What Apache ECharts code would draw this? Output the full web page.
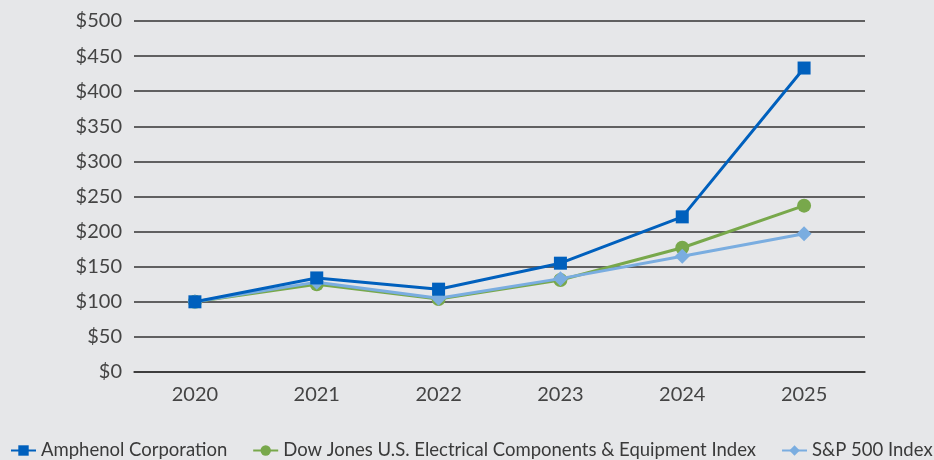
<!DOCTYPE html>
<html><head><meta charset="utf-8">
<script src="https://cdn.jsdelivr.net/npm/echarts@6/dist/echarts.min.js"></script>
<style>html,body{margin:0;padding:0;background:#e6e7e9;}#c{width:934px;height:460px;}</style>
</head><body><div id="c"></div>
<script>
const years = ['2020','2021','2022','2023','2024','2025'];
const amphenol = [100, 134, 118, 155, 221, 433];
const dowJones = [100, 125, 104, 131, 177, 237];
const sp500 = [100, 128, 105, 133, 165, 197];
const names = ['Amphenol Corporation','Dow Jones U.S. Electrical Components & Equipment Index','S&P 500 Index'];
const colors = ['#0060bd','#78a84b','#7aade0'];
const chart = echarts.init(document.getElementById('c'));
const font = 'Lato, "Noto Sans", sans-serif';
chart.setOption({
  backgroundColor: '#e6e7e9',
  animation: false,
  grid: {left: 134, right: 69, top: 21, bottom: 88},
  legend: {
    top: 441, left: 10, right: -100, itemGap: 25, itemWidth: 25, itemHeight: 13, padding: 0,
    textStyle: {fontFamily: font, fontSize: 18.5, color: '#3a3a3a'},
    data: names
  },
  xAxis: {
    type: 'category', data: years,
    axisLine: {lineStyle: {color: '#333', width: 1.5}},
    axisTick: {show: false},
    axisLabel: {fontFamily: font, fontSize: 20, color: '#444', margin: 13}
  },
  yAxis: {
    type: 'value', min: 0, max: 500, interval: 50,
    axisLine: {show: false}, axisTick: {show: false},
    splitLine: {lineStyle: {color: '#333', width: 1.5}},
    axisLabel: {fontFamily: font, fontSize: 20, color: '#444', margin: 12, formatter: v => '$' + v}
  },
  series: [
    {name: names[2], type: 'line', data: sp500, symbol: 'diamond', symbolSize: 15, z: 2,
     itemStyle: {color: colors[2]}, lineStyle: {width: 3, color: colors[2]}},
    {name: names[1], type: 'line', data: dowJones, symbol: 'circle', symbolSize: 14, z: 1,
     itemStyle: {color: colors[1]}, lineStyle: {width: 3, color: colors[1]}},
    {name: names[0], type: 'line', data: amphenol, symbol: 'rect', symbolSize: 13, z: 3,
     itemStyle: {color: colors[0]}, lineStyle: {width: 3, color: colors[0]}}
  ]
});
</script></body></html>
